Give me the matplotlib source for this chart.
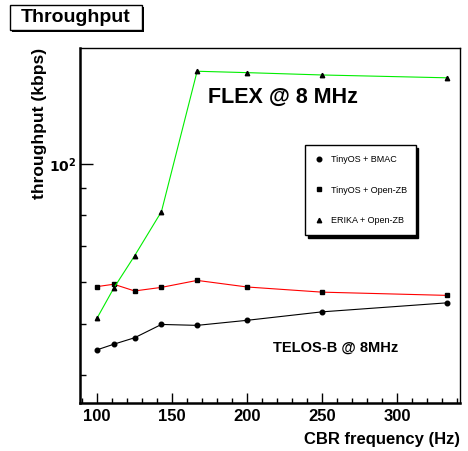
import numpy as np
import matplotlib.pyplot as plt
from matplotlib.patches import Rectangle
from matplotlib.lines import Line2D
from matplotlib.ticker import FixedLocator, NullFormatter

# CBR frequency = 1000 / period(ms)
cbr_freq = [100.0, 111.1, 125.0, 142.9, 166.7, 200.0, 250.0, 333.3]
tinyos_bmac = [44.6, 45.7, 47.0, 49.8, 49.6, 50.7, 52.6, 54.7]
tinyos_openzb = [58.7, 59.3, 57.6, 58.5, 60.3, 58.6, 57.3, 56.5]
erika_openzb = [51.2, 58.3, 67.1, 81.3, 149.6, 148.7, 147.2, 145.4]

series_labels = ['TinyOS + BMAC', 'TinyOS + Open-ZB', 'ERIKA + Open-ZB']
x_major = [100, 150, 200, 250, 300]
y_minor = [40, 50, 60, 70, 80, 90]

plt.rcParams['font.family'] = ['Liberation Sans', 'DejaVu Sans']

W, H = 468, 451
fig = plt.figure(figsize=(W / 100, H / 100), dpi=100)
fig.patch.set_facecolor('white')

ax = fig.add_axes([80 / W, 1 - 403 / H, 380 / W, 355 / H])
ax.set_yscale('log')
ax.set_xlim(88.6, 342)
ax.set_ylim(35.4, 165.5)

ax.plot(cbr_freq, tinyos_bmac, color='black', lw=0.8, marker='o', ms=3.3,
        label=series_labels[0])
ax.plot(cbr_freq, tinyos_openzb, color='#ff0000', lw=0.8, marker='s', ms=3.4,
        mfc='black', mec='black', label=series_labels[1])
ax.plot(cbr_freq, erika_openzb, color='#00ee00', lw=0.8, marker='^', ms=3.2,
        mfc='black', mec='black', label=series_labels[2])

# frame
for side in ['left', 'bottom']:
    ax.spines[side].set_linewidth(1.8)
for side in ['top', 'right']:
    ax.spines[side].set_linewidth(1.0)

# x ticks
ax.xaxis.set_major_locator(FixedLocator(x_major))
ax.xaxis.set_minor_locator(FixedLocator(np.arange(90, 341, 10)))
ax.tick_params(axis='x', which='major', direction='in', length=7, width=1.0,
               labelsize=12, pad=4)
ax.tick_params(axis='x', which='minor', direction='in', length=3.5, width=1.0)
for lab in ax.get_xticklabels():
    lab.set_fontweight('bold')

# y ticks
ax.yaxis.set_major_locator(FixedLocator([100]))
ax.yaxis.set_minor_locator(FixedLocator(y_minor))
ax.yaxis.set_minor_formatter(NullFormatter())
ax.set_yticklabels([r'$\mathbf{10^{2}}$'])
ax.tick_params(axis='y', which='major', direction='in', length=9, width=1.0,
               labelsize=10, pad=3)
ax.tick_params(axis='y', which='minor', direction='in', length=4.5, width=1.0)

ax.set_xlabel('CBR frequency (Hz)', fontsize=12, fontweight='bold', loc='right',
              labelpad=6)
ax.set_ylabel('throughput (kbps)', fontsize=12.5, fontweight='bold', loc='top',
              labelpad=1)

ax.text(0.337, 0.86, 'FLEX @ 8 MHz', transform=ax.transAxes, fontsize=15.5,
        fontweight='bold', va='center', ha='left')
ax.text(0.508, 0.156, 'TELOS-B @ 8MHz', transform=ax.transAxes, fontsize=10.5,
        fontweight='bold', va='center', ha='left')

handles = [Line2D([], [], ls='none', marker='o', ms=3.3, color='black'),
           Line2D([], [], ls='none', marker='s', ms=3.4, color='black'),
           Line2D([], [], ls='none', marker='^', ms=3.2, color='black')]
leg = ax.legend(handles, series_labels, loc='upper left',
                bbox_to_anchor=(0.592, 0.473, 0.291, 0.254), mode='expand',
                fontsize=6.5, frameon=True, fancybox=False, edgecolor='black',
                framealpha=1, labelspacing=2.4, borderpad=1.1,
                handlelength=1.0, handletextpad=0.8, borderaxespad=0,
                shadow={'facecolor': 'black', 'edgecolor': 'black', 'alpha': 1})
leg.get_frame().set_linewidth(1.0)

# title box with shadow
fig.patches.append(Rectangle((12 / W, 1 - 32 / H), 132 / W, 25 / H,
                             transform=fig.transFigure, fc='black', ec='none'))
fig.patches.append(Rectangle((10 / W, 1 - 30 / H), 132 / W, 25 / H,
                             transform=fig.transFigure, fc='white', ec='black',
                             lw=1.0))
fig.text(76 / W, 1 - 17.5 / H, 'Throughput', fontsize=14, fontweight='bold',
         ha='center', va='center')

fig.savefig('out.png', dpi=100)
